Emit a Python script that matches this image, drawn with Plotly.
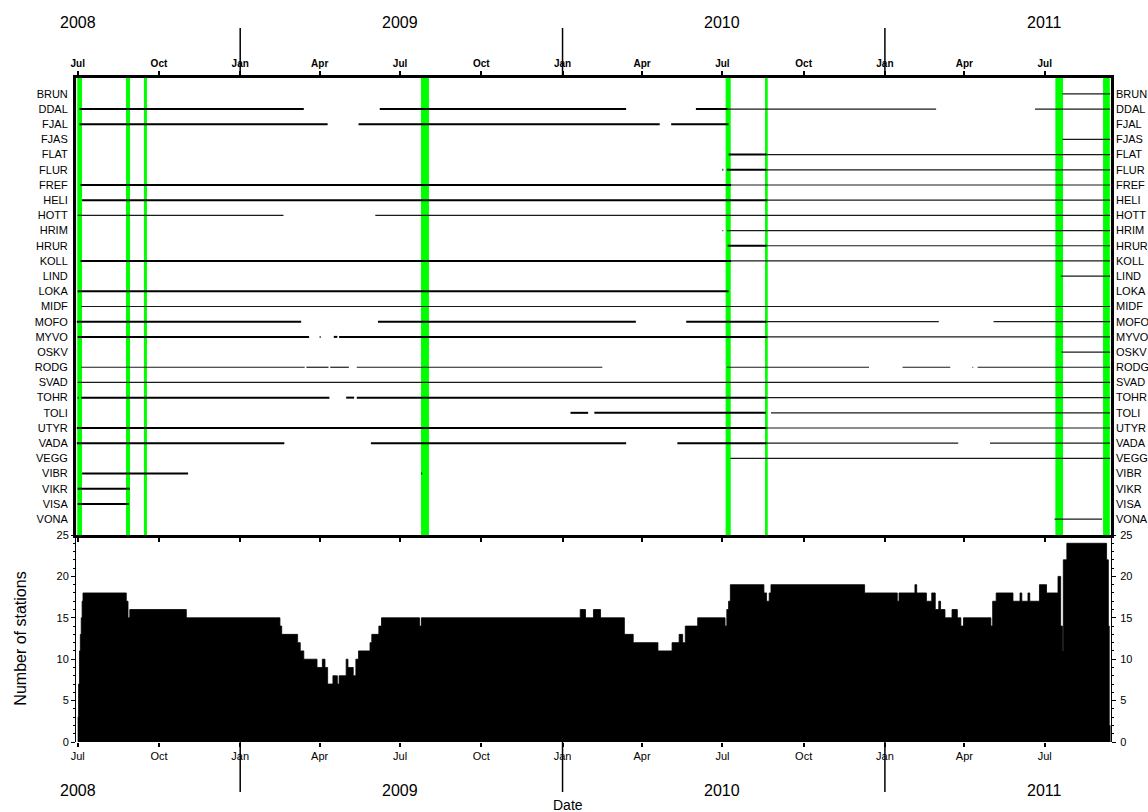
import plotly.graph_objects as go

# ---------------- data ----------------
stations = ["BRUN", "DDAL", "FJAL", "FJAS", "FLAT", "FLUR", "FREF", "HELI", "HOTT",
            "HRIM", "HRUR", "KOLL", "LIND", "LOKA", "MIDF", "MOFO", "MYVO", "OSKV",
            "RODG", "SVAD", "TOHR", "TOLI", "UTYR", "VADA", "VEGG", "VIBR", "VIKR",
            "VISA", "VONA"]

END = "2011-09-13"

# continuous recording periods (heavy lines)
full_station = ["DDAL", "DDAL", "DDAL", "FJAL", "FJAL", "FJAL", "FLAT", "FLUR", "FLUR",
                "FREF", "HELI", "HRUR", "KOLL", "LOKA", "MOFO", "MOFO", "MOFO",
                "MYVO", "MYVO", "MYVO", "MYVO", "TOHR", "TOHR", "TOHR", "TOHR",
                "TOLI", "TOLI", "UTYR", "VADA", "VADA", "VADA", "VIBR", "VIBR",
                "VIKR", "VISA"]
full_start = ["2008-07-03", "2009-06-08", "2010-06-01", "2008-07-03", "2009-05-15", "2010-05-04",
              "2010-07-08", "2010-07-01", "2010-07-06", "2008-07-04", "2008-07-06", "2010-07-07",
              "2008-07-04", "2008-07-01", "2008-06-30", "2009-06-06", "2010-05-21",
              "2008-07-01", "2009-04-01", "2009-04-17", "2009-04-23", "2008-07-01", "2008-07-05",
              "2009-05-01", "2009-05-13", "2010-01-10", "2010-02-06", "2008-06-30",
              "2008-06-30", "2009-05-29", "2010-05-11", "2008-07-06", "2009-07-25",
              "2008-07-01", "2008-07-01"]
full_end = ["2009-03-14", "2010-03-14", "2010-07-07", "2009-04-10", "2010-04-21", "2010-07-08",
            "2010-08-20", "2010-07-02", "2010-08-20", "2010-07-11", "2010-08-21", "2010-08-20",
            "2010-07-11", "2010-07-08", "2009-03-11", "2010-03-25", "2010-08-20",
            "2009-03-20", "2009-04-02", "2009-04-21", "2010-08-21", "2008-07-02", "2009-04-12",
            "2009-05-10", "2010-08-20", "2010-01-30", "2010-08-19", "2010-08-20",
            "2009-02-20", "2010-03-14", "2010-08-20", "2008-11-03", "2009-07-26",
            "2008-08-29", "2008-08-28"]

# intermittent recording periods (light lines)
part_station = ["BRUN", "DDAL", "DDAL", "FJAS", "FLAT", "FLUR", "FREF", "HELI", "HOTT", "HOTT",
                "HRIM", "HRIM", "HRUR", "KOLL", "LIND", "MIDF", "MOFO", "MOFO", "MYVO", "OSKV",
                "RODG", "RODG", "RODG", "RODG", "RODG", "RODG", "RODG", "RODG",
                "SVAD", "TOHR", "TOLI", "UTYR", "VADA", "VADA", "VEGG", "VONA"]
part_start = ["2011-07-21", "2010-07-07", "2011-06-20", "2011-07-21", "2010-08-20", "2010-08-20",
              "2010-07-11", "2010-08-21", "2008-07-01", "2009-06-03", "2010-07-01", "2010-07-06",
              "2010-08-20", "2010-07-11", "2011-07-19", "2008-07-05", "2010-08-20", "2011-05-04",
              "2010-08-21", "2011-07-20",
              "2008-07-05", "2009-03-17", "2009-04-13", "2009-05-13", "2010-07-06", "2011-01-21",
              "2011-04-10", "2011-04-16",
              "2008-07-01", "2010-08-20", "2010-08-25", "2010-08-20", "2010-08-20", "2011-04-30",
              "2010-07-10", "2011-07-12"]
part_end = [END, "2011-02-28", END, END, END, END,
            END, END, "2009-02-19", END, "2010-07-02", END,
            END, END, END, END, "2011-03-03", END,
            END, END,
            "2009-03-15", "2009-04-11", "2009-05-04", "2010-02-15", "2010-12-14", "2011-03-16",
            "2011-04-11", END,
            END, END, END, END, "2011-03-25", END,
            END, "2011-09-04"]

# highlighted periods (green bands)
band_start = ["2008-06-30 12:00", "2008-08-24 16:00", "2008-09-14", "2009-07-24 18:00",
              "2010-07-04 16:00", "2010-08-18 06:00", "2011-07-13", "2011-09-05"]
band_end = ["2008-07-05 22:00", "2008-08-29 06:00", "2008-09-17 10:00", "2009-08-02 18:00",
            "2010-07-10 10:00", "2010-08-21 08:00", "2011-07-21 16:00", "2011-09-12 16:00"]

# number of stations recording (step values, value holds until next date)
count_dates = ["2008-07-01", "2008-07-02", "2008-07-03", "2008-07-04", "2008-07-05", "2008-07-06",
               "2008-07-07", "2008-08-25", "2008-08-27", "2008-08-29", "2008-11-01",
               "2009-02-15", "2009-02-17", "2009-03-07", "2009-03-10", "2009-03-14",
               "2009-03-29", "2009-04-04", "2009-04-07", "2009-04-10", "2009-04-16",
               "2009-04-21", "2009-04-23", "2009-05-01", "2009-05-03", "2009-05-09",
               "2009-05-12", "2009-05-15", "2009-05-28", "2009-05-30", "2009-06-07",
               "2009-06-10", "2009-07-23", "2009-07-25",
               "2010-01-21", "2010-01-27", "2010-02-05", "2010-02-13", "2010-03-12",
               "2010-03-22", "2010-04-19", "2010-05-05", "2010-05-13", "2010-05-17",
               "2010-05-20", "2010-06-03", "2010-07-04", "2010-07-06", "2010-07-08",
               "2010-07-10", "2010-08-17", "2010-08-20", "2010-08-23", "2010-08-25",
               "2010-12-09", "2011-01-15", "2011-01-17", "2011-02-04", "2011-02-06",
               "2011-02-17", "2011-02-23", "2011-02-27", "2011-03-03", "2011-03-05",
               "2011-03-10", "2011-03-18", "2011-03-24", "2011-03-28", "2011-03-31",
               "2011-05-01", "2011-05-03", "2011-05-07", "2011-05-26", "2011-06-03",
               "2011-06-05", "2011-06-12", "2011-06-14", "2011-06-25", "2011-07-03",
               "2011-07-16", "2011-07-19", "2011-07-21", "2011-07-22", "2011-07-26",
               "2011-09-09", "2011-09-11", "2011-09-12", "2011-09-13"]
count_values = [3, 7, 11, 13, 15, 17,
                18, 17, 15, 16, 15,
                14, 13, 12, 11, 10,
                9, 10, 9, 7, 8,
                7, 8, 10, 9, 8,
                10, 11, 12, 13, 14,
                15, 14, 15,
                16, 15, 16, 15, 13,
                12, 11, 12, 13, 12,
                14, 15, 14, 16, 17,
                19, 18, 17, 18, 19,
                18, 17, 18, 19, 18,
                17, 18, 16, 17, 16,
                15, 16, 15, 14, 15,
                14, 17, 18, 17, 18,
                17, 18, 17, 19, 18,
                20, 14, 11, 22, 24,
                22, 14, 2, 0]

quarter_ticks = ["2008-07-01", "2008-10-01", "2009-01-01", "2009-04-01", "2009-07-01",
                 "2009-10-01", "2010-01-01", "2010-04-01", "2010-07-01", "2010-10-01",
                 "2011-01-01", "2011-04-01", "2011-07-01"]
quarter_labels = ["Jul", "Oct", "Jan", "Apr", "Jul", "Oct", "Jan", "Apr", "Jul", "Oct",
                  "Jan", "Apr", "Jul"]
year_labels = ["2008", "2009", "2010", "2011"]
year_label_pos = ["2008-07-01", "2009-07-01", "2010-07-01", "2011-07-01"]
year_bounds = ["2009-01-01", "2010-01-01", "2011-01-01"]

X_RANGE = ["2008-06-29 02:00", "2011-09-14"]

# ---------------- figure ----------------
FONT = "Liberation Sans, Arial, sans-serif"
W, H = 1148, 812
L, R, T, B = 76, 37, 78, 70
ph = H - T - B
split = (742 - 535) / ph


def build(st, s, e):
    xs, ys = [], []
    for a, b, c in zip(st, s, e):
        i = stations.index(a)
        xs += [b, c, None]
        ys += [i, i, None]
    return xs, ys


fig = go.Figure()

px, py = build(part_station, part_start, part_end)
fig.add_trace(go.Scatter(x=px, y=py, mode="lines", line=dict(color="#1a1a1a", width=1.2),
                         xaxis="x", yaxis="y", showlegend=False, hoverinfo="skip"))
fx, fy = build(full_station, full_start, full_end)
fig.add_trace(go.Scatter(x=fx, y=fy, mode="lines", line=dict(color="black", width=2),
                         xaxis="x", yaxis="y", showlegend=False, hoverinfo="skip"))
# dummy trace for right-hand station labels
fig.add_trace(go.Scatter(x=[X_RANGE[0]], y=[0], mode="markers", marker=dict(opacity=0),
                         xaxis="x", yaxis="y3", showlegend=False, hoverinfo="skip"))

fig.add_trace(go.Scatter(x=count_dates, y=count_values, mode="lines", line_shape="hv",
                         fill="tozeroy", fillcolor="black", line=dict(color="black", width=0.8),
                         xaxis="x2", yaxis="y2", showlegend=False, hoverinfo="skip"))
fig.add_trace(go.Scatter(x=[X_RANGE[0]], y=[0], mode="markers", marker=dict(opacity=0),
                         xaxis="x2", yaxis="y4", showlegend=False, hoverinfo="skip"))

shapes = []
for s, e in zip(band_start, band_end):
    shapes.append(dict(type="rect", xref="x", yref="y domain", x0=s, x1=e, y0=0, y1=1,
                       fillcolor="#00ff00", line=dict(width=0), layer="below"))
for yb in year_bounds:
    shapes.append(dict(type="line", xref="x", yref="paper", x0=yb, x1=yb,
                       y0=1, y1=(H - B - 28) / ph, line=dict(color="black", width=1.5)))
    shapes.append(dict(type="line", xref="x", yref="paper", x0=yb, x1=yb,
                       y0=0, y1=(H - B - 792) / ph, line=dict(color="black", width=1.5)))

annotations = []
for lab, pos in zip(year_labels, year_label_pos):
    annotations.append(dict(text=lab, x=pos, xref="x", y=(H - B - 22) / ph, yref="paper",
                            showarrow=False, font=dict(size=16, family=FONT, color="black"),
                            xanchor="center", yanchor="middle"))
    annotations.append(dict(text=lab, x=pos, xref="x", y=(H - B - 790) / ph, yref="paper",
                            showarrow=False, font=dict(size=16, family=FONT, color="black"),
                            xanchor="center", yanchor="middle"))
annotations.append(dict(text="Date", x=(568 - L) / (W - L - R), xref="paper",
                        y=(H - B - 805) / ph, yref="paper", showarrow=False,
                        font=dict(size=14, family=FONT, color="black"),
                        xanchor="center", yanchor="middle"))

nrow = len(stations)
pad = 1.043
yrange = [nrow - 1 + pad, -pad]

fig.update_layout(
    template="none",
    width=W, height=H,
    margin=dict(l=L, r=R, t=T, b=B, pad=0, autoexpand=False),
    paper_bgcolor="white", plot_bgcolor="white",
    font=dict(family=FONT, color="black"),
    shapes=shapes, annotations=annotations,
    showlegend=False,
    xaxis=dict(type="date", domain=[0, 1], anchor="y", side="top", range=X_RANGE,
               automargin=False,
               tickmode="array", tickvals=quarter_ticks, ticktext=quarter_labels,
               ticks="outside", ticklen=4, tickwidth=2, tickcolor="black",
               tickfont=dict(size=10, family="Liberation Sans Narrow, Liberation Sans, Arial",
                             color="black", weight="bold"),
               showline=True, linewidth=3, linecolor="black", mirror="ticks",
               showgrid=False, zeroline=False),
    yaxis=dict(domain=[split, 1], anchor="x", range=yrange, automargin=False,
               tickmode="array", tickvals=list(range(nrow)), ticktext=stations,
               ticks="", ticklabelstandoff=3, tickfont=dict(size=11, family=FONT, color="black"),
               showline=True, linewidth=3, linecolor="black", mirror=True,
               showgrid=False, zeroline=False),
    yaxis3=dict(overlaying="y", side="right", anchor="x", range=yrange, automargin=False,
                tickmode="array", tickvals=list(range(nrow)), ticktext=stations,
                ticks="", ticklabelstandoff=4,
                tickfont=dict(size=11, family=FONT, color="black"),
                showline=False, showgrid=False, zeroline=False),
    xaxis2=dict(type="date", domain=[0, 1], anchor="y2", side="bottom", range=X_RANGE,
                matches="x", automargin=False,
                tickmode="array", tickvals=quarter_ticks, ticktext=quarter_labels,
                ticks="outside", ticklen=4, tickwidth=1.5, tickcolor="black",
                tickfont=dict(size=11, family=FONT, color="black"),
                showline=False, showgrid=False, zeroline=False),
    yaxis2=dict(domain=[0, split], anchor="x2", range=[0, 25], automargin=False,
                tickmode="array", tickvals=[0, 5, 10, 15, 20, 25],
                ticks="outside", ticklen=4, tickwidth=1, tickcolor="black",
                minor=dict(dtick=1, ticks="outside", ticklen=2, tickcolor="black"),
                tickfont=dict(size=11, family=FONT, color="black"),
                showline=True, linewidth=1, linecolor="black",
                showgrid=False, zeroline=False,
                title=dict(text="Number of stations", standoff=25,
                           font=dict(size=16, family=FONT, color="black"))),
    yaxis4=dict(overlaying="y2", side="right", anchor="x2", range=[0, 25], automargin=False,
                tickmode="array", tickvals=[0, 5, 10, 15, 20, 25],
                ticks="outside", ticklen=4, tickwidth=1, tickcolor="black",
                ticklabelstandoff=2,
                minor=dict(dtick=1, ticks="outside", ticklen=2, tickcolor="black"),
                tickfont=dict(size=11, family=FONT, color="black"),
                showline=True, linewidth=1, linecolor="black",
                showgrid=False, zeroline=False),
)

fig.write_html("out.html")
